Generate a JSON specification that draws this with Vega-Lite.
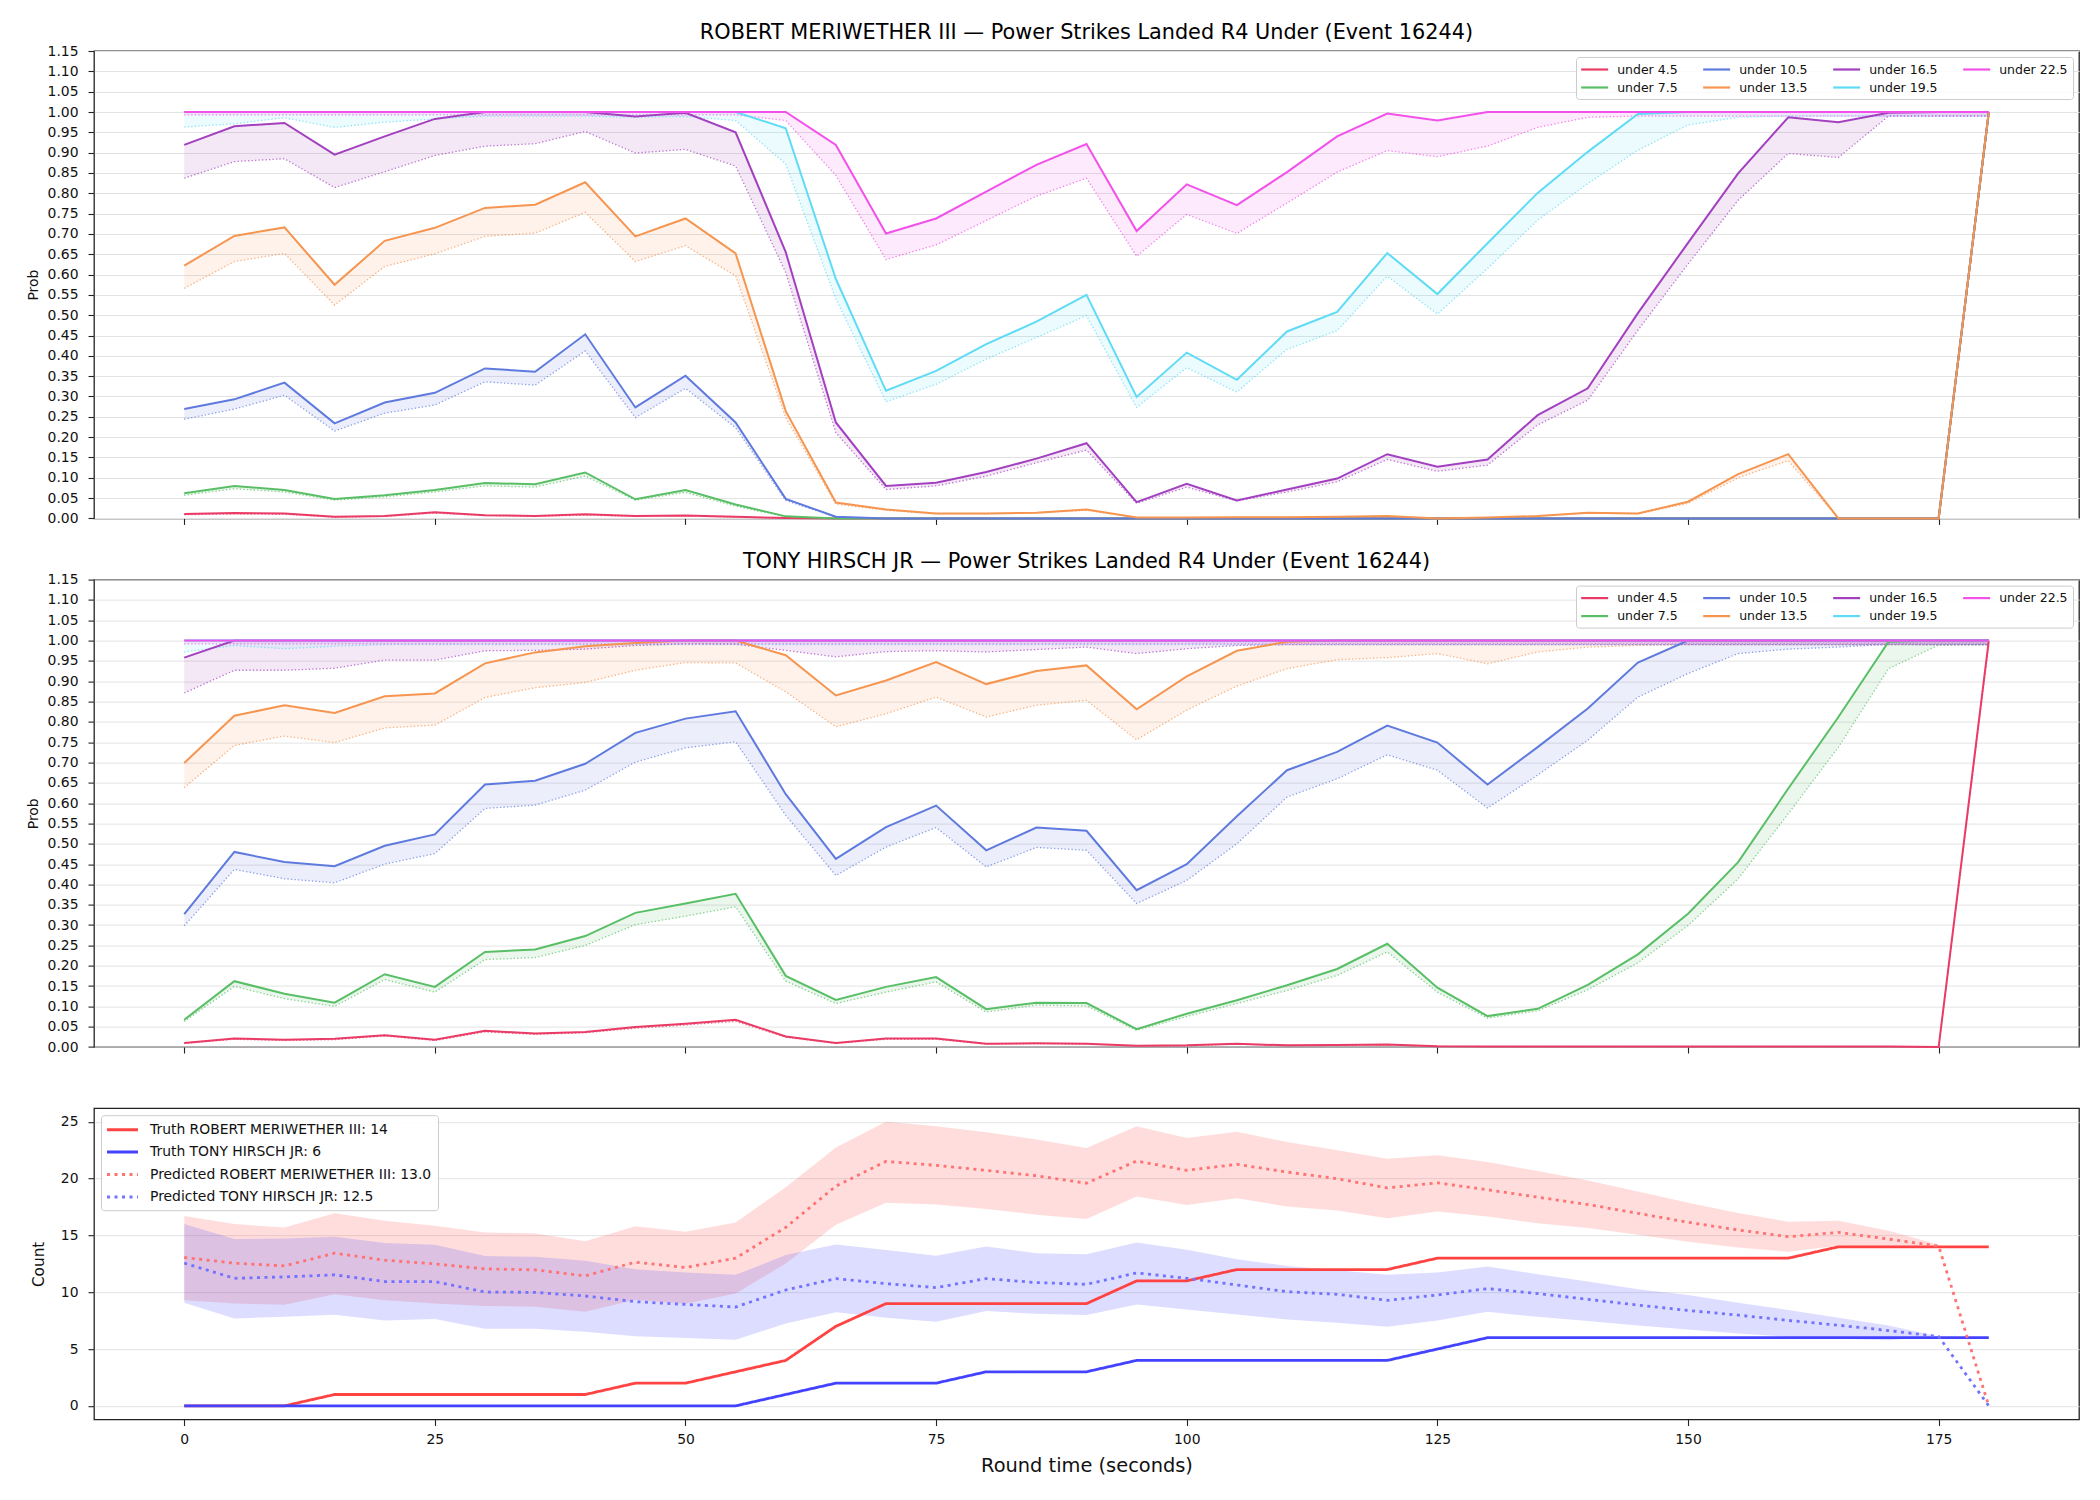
{
"$schema": "https://vega.github.io/schema/vega-lite/v6.json",
"padding": {"left": 25, "top": 21, "right": 5, "bottom": 5},
"background": "white",
"bounds": "flush",
"spacing": 60.6,
"datasets": {
"r": [
{"t":0,"s":"under 4.5","p":0.011,"l":0.009},{"t":5,"s":"under 4.5","p":0.013,"l":0.011},{"t":10,"s":"under 4.5","p":0.012,"l":0.010},{"t":15,"s":"under 4.5","p":0.004,"l":0.003},{"t":20,"s":"under 4.5","p":0.006,"l":0.005},{"t":25,"s":"under 4.5","p":0.015,"l":0.013},{"t":30,"s":"under 4.5","p":0.008,"l":0.007},{"t":35,"s":"under 4.5","p":0.006,"l":0.005},{"t":40,"s":"under 4.5","p":0.010,"l":0.008},{"t":45,"s":"under 4.5","p":0.006,"l":0.005},{"t":50,"s":"under 4.5","p":0.007,"l":0.006},{"t":55,"s":"under 4.5","p":0.004,"l":0.003},{"t":60,"s":"under 4.5","p":0.001,"l":0.001},{"t":65,"s":"under 4.5","p":0,"l":0},{"t":70,"s":"under 4.5","p":0,"l":0},{"t":75,"s":"under 4.5","p":0,"l":0},{"t":80,"s":"under 4.5","p":0,"l":0},{"t":85,"s":"under 4.5","p":0,"l":0},{"t":90,"s":"under 4.5","p":0,"l":0},{"t":95,"s":"under 4.5","p":0,"l":0},{"t":100,"s":"under 4.5","p":0,"l":0},{"t":105,"s":"under 4.5","p":0,"l":0},{"t":110,"s":"under 4.5","p":0,"l":0},{"t":115,"s":"under 4.5","p":0,"l":0},{"t":120,"s":"under 4.5","p":0,"l":0},{"t":125,"s":"under 4.5","p":0,"l":0},{"t":130,"s":"under 4.5","p":0,"l":0},{"t":135,"s":"under 4.5","p":0,"l":0},{"t":140,"s":"under 4.5","p":0,"l":0},{"t":145,"s":"under 4.5","p":0,"l":0},{"t":150,"s":"under 4.5","p":0,"l":0},{"t":155,"s":"under 4.5","p":0,"l":0},{"t":160,"s":"under 4.5","p":0,"l":0},{"t":165,"s":"under 4.5","p":0,"l":0},{"t":170,"s":"under 4.5","p":0,"l":0},{"t":175,"s":"under 4.5","p":0,"l":0},{"t":180,"s":"under 4.5","p":1,"l":0.99},
{"t":0,"s":"under 7.5","p":0.062,"l":0.057},{"t":5,"s":"under 7.5","p":0.080,"l":0.073},{"t":10,"s":"under 7.5","p":0.070,"l":0.065},{"t":15,"s":"under 7.5","p":0.048,"l":0.045},{"t":20,"s":"under 7.5","p":0.057,"l":0.053},{"t":25,"s":"under 7.5","p":0.070,"l":0.065},{"t":30,"s":"under 7.5","p":0.087,"l":0.080},{"t":35,"s":"under 7.5","p":0.084,"l":0.077},{"t":40,"s":"under 7.5","p":0.113,"l":0.104},{"t":45,"s":"under 7.5","p":0.047,"l":0.045},{"t":50,"s":"under 7.5","p":0.070,"l":0.064},{"t":55,"s":"under 7.5","p":0.034,"l":0.030},{"t":60,"s":"under 7.5","p":0.005,"l":0.004},{"t":65,"s":"under 7.5","p":0,"l":0},{"t":70,"s":"under 7.5","p":0,"l":0},{"t":75,"s":"under 7.5","p":0,"l":0},{"t":80,"s":"under 7.5","p":0,"l":0},{"t":85,"s":"under 7.5","p":0,"l":0},{"t":90,"s":"under 7.5","p":0,"l":0},{"t":95,"s":"under 7.5","p":0,"l":0},{"t":100,"s":"under 7.5","p":0,"l":0},{"t":105,"s":"under 7.5","p":0,"l":0},{"t":110,"s":"under 7.5","p":0,"l":0},{"t":115,"s":"under 7.5","p":0,"l":0},{"t":120,"s":"under 7.5","p":0,"l":0},{"t":125,"s":"under 7.5","p":0,"l":0},{"t":130,"s":"under 7.5","p":0,"l":0},{"t":135,"s":"under 7.5","p":0,"l":0},{"t":140,"s":"under 7.5","p":0,"l":0},{"t":145,"s":"under 7.5","p":0,"l":0},{"t":150,"s":"under 7.5","p":0,"l":0},{"t":155,"s":"under 7.5","p":0,"l":0},{"t":160,"s":"under 7.5","p":0,"l":0},{"t":165,"s":"under 7.5","p":0,"l":0},{"t":170,"s":"under 7.5","p":0,"l":0},{"t":175,"s":"under 7.5","p":0,"l":0},{"t":180,"s":"under 7.5","p":1,"l":0.99},
{"t":0,"s":"under 10.5","p":0.269,"l":0.244},{"t":5,"s":"under 10.5","p":0.293,"l":0.269},{"t":10,"s":"under 10.5","p":0.334,"l":0.303},{"t":15,"s":"under 10.5","p":0.234,"l":0.215},{"t":20,"s":"under 10.5","p":0.285,"l":0.259},{"t":25,"s":"under 10.5","p":0.309,"l":0.279},{"t":30,"s":"under 10.5","p":0.369,"l":0.336},{"t":35,"s":"under 10.5","p":0.361,"l":0.328},{"t":40,"s":"under 10.5","p":0.453,"l":0.412},{"t":45,"s":"under 10.5","p":0.273,"l":0.248},{"t":50,"s":"under 10.5","p":0.351,"l":0.320},{"t":55,"s":"under 10.5","p":0.236,"l":0.223},{"t":60,"s":"under 10.5","p":0.048,"l":0.044},{"t":65,"s":"under 10.5","p":0.004,"l":0.003},{"t":70,"s":"under 10.5","p":0,"l":0},{"t":75,"s":"under 10.5","p":0,"l":0},{"t":80,"s":"under 10.5","p":0,"l":0},{"t":85,"s":"under 10.5","p":0,"l":0},{"t":90,"s":"under 10.5","p":0,"l":0},{"t":95,"s":"under 10.5","p":0,"l":0},{"t":100,"s":"under 10.5","p":0,"l":0},{"t":105,"s":"under 10.5","p":0,"l":0},{"t":110,"s":"under 10.5","p":0,"l":0},{"t":115,"s":"under 10.5","p":0,"l":0},{"t":120,"s":"under 10.5","p":0,"l":0},{"t":125,"s":"under 10.5","p":0,"l":0},{"t":130,"s":"under 10.5","p":0,"l":0},{"t":135,"s":"under 10.5","p":0,"l":0},{"t":140,"s":"under 10.5","p":0,"l":0},{"t":145,"s":"under 10.5","p":0,"l":0},{"t":150,"s":"under 10.5","p":0,"l":0},{"t":155,"s":"under 10.5","p":0,"l":0},{"t":160,"s":"under 10.5","p":0,"l":0},{"t":165,"s":"under 10.5","p":0,"l":0},{"t":170,"s":"under 10.5","p":0,"l":0},{"t":175,"s":"under 10.5","p":0,"l":0},{"t":180,"s":"under 10.5","p":1,"l":0.99},
{"t":0,"s":"under 13.5","p":0.622,"l":0.566},{"t":5,"s":"under 13.5","p":0.695,"l":0.632},{"t":10,"s":"under 13.5","p":0.716,"l":0.652},{"t":15,"s":"under 13.5","p":0.575,"l":0.525},{"t":20,"s":"under 13.5","p":0.683,"l":0.620},{"t":25,"s":"under 13.5","p":0.715,"l":0.651},{"t":30,"s":"under 13.5","p":0.764,"l":0.694},{"t":35,"s":"under 13.5","p":0.772,"l":0.702},{"t":40,"s":"under 13.5","p":0.827,"l":0.753},{"t":45,"s":"under 13.5","p":0.694,"l":0.632},{"t":50,"s":"under 13.5","p":0.738,"l":0.671},{"t":55,"s":"under 13.5","p":0.652,"l":0.597},{"t":60,"s":"under 13.5","p":0.264,"l":0.248},{"t":65,"s":"under 13.5","p":0.039,"l":0.035},{"t":70,"s":"under 13.5","p":0.022,"l":0.020},{"t":75,"s":"under 13.5","p":0.012,"l":0.011},{"t":80,"s":"under 13.5","p":0.012,"l":0.011},{"t":85,"s":"under 13.5","p":0.014,"l":0.013},{"t":90,"s":"under 13.5","p":0.022,"l":0.020},{"t":95,"s":"under 13.5","p":0.002,"l":0.002},{"t":100,"s":"under 13.5","p":0.002,"l":0.002},{"t":105,"s":"under 13.5","p":0.003,"l":0.003},{"t":110,"s":"under 13.5","p":0.003,"l":0.003},{"t":115,"s":"under 13.5","p":0.004,"l":0.004},{"t":120,"s":"under 13.5","p":0.006,"l":0.005},{"t":125,"s":"under 13.5","p":0,"l":0},{"t":130,"s":"under 13.5","p":0.002,"l":0.002},{"t":135,"s":"under 13.5","p":0.006,"l":0.005},{"t":140,"s":"under 13.5","p":0.014,"l":0.013},{"t":145,"s":"under 13.5","p":0.012,"l":0.011},{"t":150,"s":"under 13.5","p":0.041,"l":0.037},{"t":155,"s":"under 13.5","p":0.109,"l":0.100},{"t":160,"s":"under 13.5","p":0.158,"l":0.142},{"t":165,"s":"under 13.5","p":0,"l":0},{"t":170,"s":"under 13.5","p":0,"l":0},{"t":175,"s":"under 13.5","p":0,"l":0},{"t":180,"s":"under 13.5","p":1,"l":0.99},
{"t":0,"s":"under 16.5","p":0.919,"l":0.837},{"t":5,"s":"under 16.5","p":0.965,"l":0.878},{"t":10,"s":"under 16.5","p":0.973,"l":0.885},{"t":15,"s":"under 16.5","p":0.895,"l":0.814},{"t":20,"s":"under 16.5","p":0.940,"l":0.853},{"t":25,"s":"under 16.5","p":0.983,"l":0.893},{"t":30,"s":"under 16.5","p":1,"l":0.916},{"t":35,"s":"under 16.5","p":1,"l":0.922},{"t":40,"s":"under 16.5","p":1,"l":0.952},{"t":45,"s":"under 16.5","p":0.989,"l":0.899},{"t":50,"s":"under 16.5","p":0.998,"l":0.908},{"t":55,"s":"under 16.5","p":0.950,"l":0.867},{"t":60,"s":"under 16.5","p":0.655,"l":0.605},{"t":65,"s":"under 16.5","p":0.236,"l":0.211},{"t":70,"s":"under 16.5","p":0.080,"l":0.071},{"t":75,"s":"under 16.5","p":0.088,"l":0.080},{"t":80,"s":"under 16.5","p":0.114,"l":0.104},{"t":85,"s":"under 16.5","p":0.147,"l":0.137},{"t":90,"s":"under 16.5","p":0.185,"l":0.168},{"t":95,"s":"under 16.5","p":0.040,"l":0.037},{"t":100,"s":"under 16.5","p":0.085,"l":0.077},{"t":105,"s":"under 16.5","p":0.044,"l":0.043},{"t":110,"s":"under 16.5","p":0.071,"l":0.065},{"t":115,"s":"under 16.5","p":0.098,"l":0.090},{"t":120,"s":"under 16.5","p":0.158,"l":0.145},{"t":125,"s":"under 16.5","p":0.127,"l":0.116},{"t":130,"s":"under 16.5","p":0.145,"l":0.131},{"t":135,"s":"under 16.5","p":0.254,"l":0.230},{"t":140,"s":"under 16.5","p":0.320,"l":0.291},{"t":145,"s":"under 16.5","p":0.505,"l":0.463},{"t":150,"s":"under 16.5","p":0.678,"l":0.626},{"t":155,"s":"under 16.5","p":0.849,"l":0.783},{"t":160,"s":"under 16.5","p":0.987,"l":0.898},{"t":165,"s":"under 16.5","p":0.975,"l":0.888},{"t":170,"s":"under 16.5","p":0.998,"l":0.990},{"t":175,"s":"under 16.5","p":1,"l":0.990},{"t":180,"s":"under 16.5","p":1,"l":0.990},
{"t":0,"s":"under 19.5","p":1,"l":0.963},{"t":5,"s":"under 19.5","p":1,"l":0.971},{"t":10,"s":"under 19.5","p":1,"l":0.986},{"t":15,"s":"under 19.5","p":1,"l":0.962},{"t":20,"s":"under 19.5","p":1,"l":0.975},{"t":25,"s":"under 19.5","p":1,"l":0.983},{"t":30,"s":"under 19.5","p":1,"l":0.990},{"t":35,"s":"under 19.5","p":1,"l":0.990},{"t":40,"s":"under 19.5","p":1,"l":0.990},{"t":45,"s":"under 19.5","p":1,"l":0.987},{"t":50,"s":"under 19.5","p":1,"l":0.989},{"t":55,"s":"under 19.5","p":1,"l":0.979},{"t":60,"s":"under 19.5","p":0.960,"l":0.872},{"t":65,"s":"under 19.5","p":0.589,"l":0.540},{"t":70,"s":"under 19.5","p":0.314,"l":0.287},{"t":75,"s":"under 19.5","p":0.363,"l":0.330},{"t":80,"s":"under 19.5","p":0.429,"l":0.392},{"t":85,"s":"under 19.5","p":0.484,"l":0.445},{"t":90,"s":"under 19.5","p":0.550,"l":0.499},{"t":95,"s":"under 19.5","p":0.299,"l":0.273},{"t":100,"s":"under 19.5","p":0.408,"l":0.371},{"t":105,"s":"under 19.5","p":0.341,"l":0.311},{"t":110,"s":"under 19.5","p":0.460,"l":0.416},{"t":115,"s":"under 19.5","p":0.508,"l":0.462},{"t":120,"s":"under 19.5","p":0.653,"l":0.596},{"t":125,"s":"under 19.5","p":0.552,"l":0.503},{"t":130,"s":"under 19.5","p":0.677,"l":0.615},{"t":135,"s":"under 19.5","p":0.801,"l":0.734},{"t":140,"s":"under 19.5","p":0.902,"l":0.824},{"t":145,"s":"under 19.5","p":0.995,"l":0.906},{"t":150,"s":"under 19.5","p":1,"l":0.968},{"t":155,"s":"under 19.5","p":1,"l":0.987},{"t":160,"s":"under 19.5","p":1,"l":0.990},{"t":165,"s":"under 19.5","p":1,"l":0.990},{"t":170,"s":"under 19.5","p":1,"l":0.990},{"t":175,"s":"under 19.5","p":1,"l":0.990},{"t":180,"s":"under 19.5","p":1,"l":0.990},
{"t":0,"s":"under 22.5","p":1,"l":0.993},{"t":5,"s":"under 22.5","p":1,"l":0.993},{"t":10,"s":"under 22.5","p":1,"l":0.993},{"t":15,"s":"under 22.5","p":1,"l":0.993},{"t":20,"s":"under 22.5","p":1,"l":0.993},{"t":25,"s":"under 22.5","p":1,"l":0.993},{"t":30,"s":"under 22.5","p":1,"l":0.993},{"t":35,"s":"under 22.5","p":1,"l":0.993},{"t":40,"s":"under 22.5","p":1,"l":0.993},{"t":45,"s":"under 22.5","p":1,"l":0.993},{"t":50,"s":"under 22.5","p":1,"l":0.993},{"t":55,"s":"under 22.5","p":1,"l":0.993},{"t":60,"s":"under 22.5","p":1,"l":0.979},{"t":65,"s":"under 22.5","p":0.919,"l":0.844},{"t":70,"s":"under 22.5","p":0.701,"l":0.637},{"t":75,"s":"under 22.5","p":0.738,"l":0.673},{"t":80,"s":"under 22.5","p":0.804,"l":0.733},{"t":85,"s":"under 22.5","p":0.870,"l":0.793},{"t":90,"s":"under 22.5","p":0.921,"l":0.837},{"t":95,"s":"under 22.5","p":0.707,"l":0.645},{"t":100,"s":"under 22.5","p":0.822,"l":0.748},{"t":105,"s":"under 22.5","p":0.771,"l":0.701},{"t":110,"s":"under 22.5","p":0.852,"l":0.776},{"t":115,"s":"under 22.5","p":0.940,"l":0.852},{"t":120,"s":"under 22.5","p":0.996,"l":0.905},{"t":125,"s":"under 22.5","p":0.979,"l":0.890},{"t":130,"s":"under 22.5","p":1,"l":0.916},{"t":135,"s":"under 22.5","p":1,"l":0.962},{"t":140,"s":"under 22.5","p":1,"l":0.987},{"t":145,"s":"under 22.5","p":1,"l":0.990},{"t":150,"s":"under 22.5","p":1,"l":0.990},{"t":155,"s":"under 22.5","p":1,"l":0.990},{"t":160,"s":"under 22.5","p":1,"l":0.990},{"t":165,"s":"under 22.5","p":1,"l":0.990},{"t":170,"s":"under 22.5","p":1,"l":0.990},{"t":175,"s":"under 22.5","p":1,"l":0.990},{"t":180,"s":"under 22.5","p":1,"l":0.990}
],
"h": [
{"t":0,"s":"under 4.5","p":0.010,"l":0.009},{"t":5,"s":"under 4.5","p":0.021,"l":0.019},{"t":10,"s":"under 4.5","p":0.018,"l":0.016},{"t":15,"s":"under 4.5","p":0.020,"l":0.018},{"t":20,"s":"under 4.5","p":0.029,"l":0.027},{"t":25,"s":"under 4.5","p":0.018,"l":0.016},{"t":30,"s":"under 4.5","p":0.040,"l":0.037},{"t":35,"s":"under 4.5","p":0.033,"l":0.031},{"t":40,"s":"under 4.5","p":0.037,"l":0.035},{"t":45,"s":"under 4.5","p":0.049,"l":0.046},{"t":50,"s":"under 4.5","p":0.057,"l":0.054},{"t":55,"s":"under 4.5","p":0.067,"l":0.063},{"t":60,"s":"under 4.5","p":0.026,"l":0.024},{"t":65,"s":"under 4.5","p":0.010,"l":0.009},{"t":70,"s":"under 4.5","p":0.021,"l":0.019},{"t":75,"s":"under 4.5","p":0.021,"l":0.019},{"t":80,"s":"under 4.5","p":0.008,"l":0.007},{"t":85,"s":"under 4.5","p":0.009,"l":0.008},{"t":90,"s":"under 4.5","p":0.008,"l":0.007},{"t":95,"s":"under 4.5","p":0.003,"l":0.003},{"t":100,"s":"under 4.5","p":0.004,"l":0.003},{"t":105,"s":"under 4.5","p":0.008,"l":0.007},{"t":110,"s":"under 4.5","p":0.004,"l":0.003},{"t":115,"s":"under 4.5","p":0.005,"l":0.004},{"t":120,"s":"under 4.5","p":0.006,"l":0.005},{"t":125,"s":"under 4.5","p":0.002,"l":0.002},{"t":130,"s":"under 4.5","p":0.001,"l":0.001},{"t":135,"s":"under 4.5","p":0.001,"l":0.001},{"t":140,"s":"under 4.5","p":0.001,"l":0.001},{"t":145,"s":"under 4.5","p":0.001,"l":0.001},{"t":150,"s":"under 4.5","p":0.001,"l":0.001},{"t":155,"s":"under 4.5","p":0.001,"l":0.001},{"t":160,"s":"under 4.5","p":0.001,"l":0.001},{"t":165,"s":"under 4.5","p":0.001,"l":0.001},{"t":170,"s":"under 4.5","p":0.001,"l":0.001},{"t":175,"s":"under 4.5","p":0,"l":0},{"t":180,"s":"under 4.5","p":1,"l":0.99},
{"t":0,"s":"under 7.5","p":0.067,"l":0.063},{"t":5,"s":"under 7.5","p":0.162,"l":0.149},{"t":10,"s":"under 7.5","p":0.131,"l":0.119},{"t":15,"s":"under 7.5","p":0.109,"l":0.100},{"t":20,"s":"under 7.5","p":0.179,"l":0.166},{"t":25,"s":"under 7.5","p":0.148,"l":0.135},{"t":30,"s":"under 7.5","p":0.234,"l":0.215},{"t":35,"s":"under 7.5","p":0.240,"l":0.220},{"t":40,"s":"under 7.5","p":0.273,"l":0.250},{"t":45,"s":"under 7.5","p":0.330,"l":0.301},{"t":50,"s":"under 7.5","p":0.353,"l":0.322},{"t":55,"s":"under 7.5","p":0.377,"l":0.345},{"t":60,"s":"under 7.5","p":0.175,"l":0.162},{"t":65,"s":"under 7.5","p":0.116,"l":0.107},{"t":70,"s":"under 7.5","p":0.148,"l":0.135},{"t":75,"s":"under 7.5","p":0.172,"l":0.160},{"t":80,"s":"under 7.5","p":0.093,"l":0.086},{"t":85,"s":"under 7.5","p":0.109,"l":0.103},{"t":90,"s":"under 7.5","p":0.108,"l":0.101},{"t":95,"s":"under 7.5","p":0.044,"l":0.041},{"t":100,"s":"under 7.5","p":0.082,"l":0.075},{"t":105,"s":"under 7.5","p":0.115,"l":0.107},{"t":110,"s":"under 7.5","p":0.152,"l":0.139},{"t":115,"s":"under 7.5","p":0.192,"l":0.176},{"t":120,"s":"under 7.5","p":0.254,"l":0.234},{"t":125,"s":"under 7.5","p":0.146,"l":0.135},{"t":130,"s":"under 7.5","p":0.076,"l":0.071},{"t":135,"s":"under 7.5","p":0.094,"l":0.089},{"t":140,"s":"under 7.5","p":0.153,"l":0.141},{"t":145,"s":"under 7.5","p":0.228,"l":0.207},{"t":150,"s":"under 7.5","p":0.328,"l":0.299},{"t":155,"s":"under 7.5","p":0.455,"l":0.414},{"t":160,"s":"under 7.5","p":0.636,"l":0.574},{"t":165,"s":"under 7.5","p":0.812,"l":0.738},{"t":170,"s":"under 7.5","p":0.997,"l":0.931},{"t":175,"s":"under 7.5","p":1,"l":0.989},{"t":180,"s":"under 7.5","p":1,"l":0.990},
{"t":0,"s":"under 10.5","p":0.327,"l":0.298},{"t":5,"s":"under 10.5","p":0.480,"l":0.437},{"t":10,"s":"under 10.5","p":0.455,"l":0.414},{"t":15,"s":"under 10.5","p":0.445,"l":0.404},{"t":20,"s":"under 10.5","p":0.495,"l":0.450},{"t":25,"s":"under 10.5","p":0.523,"l":0.476},{"t":30,"s":"under 10.5","p":0.646,"l":0.587},{"t":35,"s":"under 10.5","p":0.655,"l":0.595},{"t":40,"s":"under 10.5","p":0.697,"l":0.632},{"t":45,"s":"under 10.5","p":0.773,"l":0.701},{"t":50,"s":"under 10.5","p":0.808,"l":0.736},{"t":55,"s":"under 10.5","p":0.826,"l":0.751},{"t":60,"s":"under 10.5","p":0.622,"l":0.570},{"t":65,"s":"under 10.5","p":0.463,"l":0.422},{"t":70,"s":"under 10.5","p":0.541,"l":0.492},{"t":75,"s":"under 10.5","p":0.594,"l":0.540},{"t":80,"s":"under 10.5","p":0.484,"l":0.443},{"t":85,"s":"under 10.5","p":0.540,"l":0.491},{"t":90,"s":"under 10.5","p":0.532,"l":0.484},{"t":95,"s":"under 10.5","p":0.386,"l":0.353},{"t":100,"s":"under 10.5","p":0.450,"l":0.410},{"t":105,"s":"under 10.5","p":0.568,"l":0.500},{"t":110,"s":"under 10.5","p":0.681,"l":0.615},{"t":115,"s":"under 10.5","p":0.726,"l":0.660},{"t":120,"s":"under 10.5","p":0.791,"l":0.719},{"t":125,"s":"under 10.5","p":0.749,"l":0.681},{"t":130,"s":"under 10.5","p":0.646,"l":0.588},{"t":135,"s":"under 10.5","p":0.738,"l":0.669},{"t":140,"s":"under 10.5","p":0.833,"l":0.755},{"t":145,"s":"under 10.5","p":0.946,"l":0.861},{"t":150,"s":"under 10.5","p":1,"l":0.919},{"t":155,"s":"under 10.5","p":1,"l":0.968},{"t":160,"s":"under 10.5","p":1,"l":0.979},{"t":165,"s":"under 10.5","p":1,"l":0.984},{"t":170,"s":"under 10.5","p":1,"l":0.991},{"t":175,"s":"under 10.5","p":1,"l":0.990},{"t":180,"s":"under 10.5","p":1,"l":0.990},
{"t":0,"s":"under 13.5","p":0.699,"l":0.638},{"t":5,"s":"under 13.5","p":0.815,"l":0.742},{"t":10,"s":"under 13.5","p":0.841,"l":0.765},{"t":15,"s":"under 13.5","p":0.822,"l":0.749},{"t":20,"s":"under 13.5","p":0.863,"l":0.785},{"t":25,"s":"under 13.5","p":0.870,"l":0.792},{"t":30,"s":"under 13.5","p":0.944,"l":0.860},{"t":35,"s":"under 13.5","p":0.971,"l":0.884},{"t":40,"s":"under 13.5","p":0.986,"l":0.897},{"t":45,"s":"under 13.5","p":0.994,"l":0.927},{"t":50,"s":"under 13.5","p":1,"l":0.946},{"t":55,"s":"under 13.5","p":1,"l":0.945},{"t":60,"s":"under 13.5","p":0.964,"l":0.874},{"t":65,"s":"under 13.5","p":0.865,"l":0.788},{"t":70,"s":"under 13.5","p":0.902,"l":0.820},{"t":75,"s":"under 13.5","p":0.947,"l":0.861},{"t":80,"s":"under 13.5","p":0.893,"l":0.812},{"t":85,"s":"under 13.5","p":0.925,"l":0.841},{"t":90,"s":"under 13.5","p":0.939,"l":0.853},{"t":95,"s":"under 13.5","p":0.831,"l":0.756},{"t":100,"s":"under 13.5","p":0.912,"l":0.829},{"t":105,"s":"under 13.5","p":0.975,"l":0.888},{"t":110,"s":"under 13.5","p":0.997,"l":0.931},{"t":115,"s":"under 13.5","p":1,"l":0.953},{"t":120,"s":"under 13.5","p":1,"l":0.958},{"t":125,"s":"under 13.5","p":1,"l":0.968},{"t":130,"s":"under 13.5","p":1,"l":0.943},{"t":135,"s":"under 13.5","p":1,"l":0.972},{"t":140,"s":"under 13.5","p":1,"l":0.984},{"t":145,"s":"under 13.5","p":1,"l":0.988},{"t":150,"s":"under 13.5","p":1,"l":0.990},{"t":155,"s":"under 13.5","p":1,"l":0.990},{"t":160,"s":"under 13.5","p":1,"l":0.990},{"t":165,"s":"under 13.5","p":1,"l":0.990},{"t":170,"s":"under 13.5","p":1,"l":0.990},{"t":175,"s":"under 13.5","p":1,"l":0.990},{"t":180,"s":"under 13.5","p":1,"l":0.990},
{"t":0,"s":"under 16.5","p":0.958,"l":0.871},{"t":5,"s":"under 16.5","p":1,"l":0.927},{"t":10,"s":"under 16.5","p":1,"l":0.927},{"t":15,"s":"under 16.5","p":1,"l":0.932},{"t":20,"s":"under 16.5","p":1,"l":0.952},{"t":25,"s":"under 16.5","p":1,"l":0.952},{"t":30,"s":"under 16.5","p":1,"l":0.975},{"t":35,"s":"under 16.5","p":1,"l":0.976},{"t":40,"s":"under 16.5","p":1,"l":0.979},{"t":45,"s":"under 16.5","p":1,"l":0.988},{"t":50,"s":"under 16.5","p":1,"l":0.992},{"t":55,"s":"under 16.5","p":1,"l":0.991},{"t":60,"s":"under 16.5","p":1,"l":0.976},{"t":65,"s":"under 16.5","p":1,"l":0.960},{"t":70,"s":"under 16.5","p":1,"l":0.973},{"t":75,"s":"under 16.5","p":1,"l":0.975},{"t":80,"s":"under 16.5","p":1,"l":0.972},{"t":85,"s":"under 16.5","p":1,"l":0.978},{"t":90,"s":"under 16.5","p":1,"l":0.984},{"t":95,"s":"under 16.5","p":1,"l":0.968},{"t":100,"s":"under 16.5","p":1,"l":0.980},{"t":105,"s":"under 16.5","p":1,"l":0.988},{"t":110,"s":"under 16.5","p":1,"l":0.990},{"t":115,"s":"under 16.5","p":1,"l":0.990},{"t":120,"s":"under 16.5","p":1,"l":0.990},{"t":125,"s":"under 16.5","p":1,"l":0.990},{"t":130,"s":"under 16.5","p":1,"l":0.990},{"t":135,"s":"under 16.5","p":1,"l":0.990},{"t":140,"s":"under 16.5","p":1,"l":0.990},{"t":145,"s":"under 16.5","p":1,"l":0.990},{"t":150,"s":"under 16.5","p":1,"l":0.990},{"t":155,"s":"under 16.5","p":1,"l":0.990},{"t":160,"s":"under 16.5","p":1,"l":0.990},{"t":165,"s":"under 16.5","p":1,"l":0.990},{"t":170,"s":"under 16.5","p":1,"l":0.990},{"t":175,"s":"under 16.5","p":1,"l":0.990},{"t":180,"s":"under 16.5","p":1,"l":0.990},
{"t":0,"s":"under 19.5","p":1,"l":0.972},{"t":5,"s":"under 19.5","p":1,"l":0.988},{"t":10,"s":"under 19.5","p":1,"l":0.980},{"t":15,"s":"under 19.5","p":1,"l":0.986},{"t":20,"s":"under 19.5","p":1,"l":0.990},{"t":25,"s":"under 19.5","p":1,"l":0.990},{"t":30,"s":"under 19.5","p":1,"l":0.990},{"t":35,"s":"under 19.5","p":1,"l":0.990},{"t":40,"s":"under 19.5","p":1,"l":0.990},{"t":45,"s":"under 19.5","p":1,"l":0.990},{"t":50,"s":"under 19.5","p":1,"l":0.990},{"t":55,"s":"under 19.5","p":1,"l":0.990},{"t":60,"s":"under 19.5","p":1,"l":0.990},{"t":65,"s":"under 19.5","p":1,"l":0.990},{"t":70,"s":"under 19.5","p":1,"l":0.990},{"t":75,"s":"under 19.5","p":1,"l":0.990},{"t":80,"s":"under 19.5","p":1,"l":0.990},{"t":85,"s":"under 19.5","p":1,"l":0.990},{"t":90,"s":"under 19.5","p":1,"l":0.990},{"t":95,"s":"under 19.5","p":1,"l":0.990},{"t":100,"s":"under 19.5","p":1,"l":0.990},{"t":105,"s":"under 19.5","p":1,"l":0.990},{"t":110,"s":"under 19.5","p":1,"l":0.990},{"t":115,"s":"under 19.5","p":1,"l":0.990},{"t":120,"s":"under 19.5","p":1,"l":0.990},{"t":125,"s":"under 19.5","p":1,"l":0.990},{"t":130,"s":"under 19.5","p":1,"l":0.990},{"t":135,"s":"under 19.5","p":1,"l":0.990},{"t":140,"s":"under 19.5","p":1,"l":0.990},{"t":145,"s":"under 19.5","p":1,"l":0.990},{"t":150,"s":"under 19.5","p":1,"l":0.990},{"t":155,"s":"under 19.5","p":1,"l":0.990},{"t":160,"s":"under 19.5","p":1,"l":0.990},{"t":165,"s":"under 19.5","p":1,"l":0.990},{"t":170,"s":"under 19.5","p":1,"l":0.990},{"t":175,"s":"under 19.5","p":1,"l":0.990},{"t":180,"s":"under 19.5","p":1,"l":0.990},
{"t":0,"s":"under 22.5","p":1,"l":0.992},{"t":5,"s":"under 22.5","p":1,"l":0.992},{"t":10,"s":"under 22.5","p":1,"l":0.992},{"t":15,"s":"under 22.5","p":1,"l":0.992},{"t":20,"s":"under 22.5","p":1,"l":0.992},{"t":25,"s":"under 22.5","p":1,"l":0.992},{"t":30,"s":"under 22.5","p":1,"l":0.992},{"t":35,"s":"under 22.5","p":1,"l":0.992},{"t":40,"s":"under 22.5","p":1,"l":0.992},{"t":45,"s":"under 22.5","p":1,"l":0.992},{"t":50,"s":"under 22.5","p":1,"l":0.992},{"t":55,"s":"under 22.5","p":1,"l":0.992},{"t":60,"s":"under 22.5","p":1,"l":0.992},{"t":65,"s":"under 22.5","p":1,"l":0.992},{"t":70,"s":"under 22.5","p":1,"l":0.992},{"t":75,"s":"under 22.5","p":1,"l":0.992},{"t":80,"s":"under 22.5","p":1,"l":0.992},{"t":85,"s":"under 22.5","p":1,"l":0.992},{"t":90,"s":"under 22.5","p":1,"l":0.992},{"t":95,"s":"under 22.5","p":1,"l":0.992},{"t":100,"s":"under 22.5","p":1,"l":0.992},{"t":105,"s":"under 22.5","p":1,"l":0.992},{"t":110,"s":"under 22.5","p":1,"l":0.992},{"t":115,"s":"under 22.5","p":1,"l":0.992},{"t":120,"s":"under 22.5","p":1,"l":0.992},{"t":125,"s":"under 22.5","p":1,"l":0.992},{"t":130,"s":"under 22.5","p":1,"l":0.992},{"t":135,"s":"under 22.5","p":1,"l":0.992},{"t":140,"s":"under 22.5","p":1,"l":0.992},{"t":145,"s":"under 22.5","p":1,"l":0.992},{"t":150,"s":"under 22.5","p":1,"l":0.992},{"t":155,"s":"under 22.5","p":1,"l":0.992},{"t":160,"s":"under 22.5","p":1,"l":0.992},{"t":165,"s":"under 22.5","p":1,"l":0.992},{"t":170,"s":"under 22.5","p":1,"l":0.992},{"t":175,"s":"under 22.5","p":1,"l":0.992},{"t":180,"s":"under 22.5","p":1,"l":0.992}
],
"c": [
{"t":0,"k":"Truth ROBERT MERIWETHER III: 14","v":0},{"t":5,"k":"Truth ROBERT MERIWETHER III: 14","v":0},{"t":10,"k":"Truth ROBERT MERIWETHER III: 14","v":0},{"t":15,"k":"Truth ROBERT MERIWETHER III: 14","v":1},{"t":20,"k":"Truth ROBERT MERIWETHER III: 14","v":1},{"t":25,"k":"Truth ROBERT MERIWETHER III: 14","v":1},{"t":30,"k":"Truth ROBERT MERIWETHER III: 14","v":1},{"t":35,"k":"Truth ROBERT MERIWETHER III: 14","v":1},{"t":40,"k":"Truth ROBERT MERIWETHER III: 14","v":1},{"t":45,"k":"Truth ROBERT MERIWETHER III: 14","v":2},{"t":50,"k":"Truth ROBERT MERIWETHER III: 14","v":2},{"t":55,"k":"Truth ROBERT MERIWETHER III: 14","v":3},{"t":60,"k":"Truth ROBERT MERIWETHER III: 14","v":4},{"t":65,"k":"Truth ROBERT MERIWETHER III: 14","v":7},{"t":70,"k":"Truth ROBERT MERIWETHER III: 14","v":9},{"t":75,"k":"Truth ROBERT MERIWETHER III: 14","v":9},{"t":80,"k":"Truth ROBERT MERIWETHER III: 14","v":9},{"t":85,"k":"Truth ROBERT MERIWETHER III: 14","v":9},{"t":90,"k":"Truth ROBERT MERIWETHER III: 14","v":9},{"t":95,"k":"Truth ROBERT MERIWETHER III: 14","v":11},{"t":100,"k":"Truth ROBERT MERIWETHER III: 14","v":11},{"t":105,"k":"Truth ROBERT MERIWETHER III: 14","v":12},{"t":110,"k":"Truth ROBERT MERIWETHER III: 14","v":12},{"t":115,"k":"Truth ROBERT MERIWETHER III: 14","v":12},{"t":120,"k":"Truth ROBERT MERIWETHER III: 14","v":12},{"t":125,"k":"Truth ROBERT MERIWETHER III: 14","v":13},{"t":130,"k":"Truth ROBERT MERIWETHER III: 14","v":13},{"t":135,"k":"Truth ROBERT MERIWETHER III: 14","v":13},{"t":140,"k":"Truth ROBERT MERIWETHER III: 14","v":13},{"t":145,"k":"Truth ROBERT MERIWETHER III: 14","v":13},{"t":150,"k":"Truth ROBERT MERIWETHER III: 14","v":13},{"t":155,"k":"Truth ROBERT MERIWETHER III: 14","v":13},{"t":160,"k":"Truth ROBERT MERIWETHER III: 14","v":13},{"t":165,"k":"Truth ROBERT MERIWETHER III: 14","v":14},{"t":170,"k":"Truth ROBERT MERIWETHER III: 14","v":14},{"t":175,"k":"Truth ROBERT MERIWETHER III: 14","v":14},{"t":180,"k":"Truth ROBERT MERIWETHER III: 14","v":14},
{"t":0,"k":"Truth TONY HIRSCH JR: 6","v":0},{"t":5,"k":"Truth TONY HIRSCH JR: 6","v":0},{"t":10,"k":"Truth TONY HIRSCH JR: 6","v":0},{"t":15,"k":"Truth TONY HIRSCH JR: 6","v":0},{"t":20,"k":"Truth TONY HIRSCH JR: 6","v":0},{"t":25,"k":"Truth TONY HIRSCH JR: 6","v":0},{"t":30,"k":"Truth TONY HIRSCH JR: 6","v":0},{"t":35,"k":"Truth TONY HIRSCH JR: 6","v":0},{"t":40,"k":"Truth TONY HIRSCH JR: 6","v":0},{"t":45,"k":"Truth TONY HIRSCH JR: 6","v":0},{"t":50,"k":"Truth TONY HIRSCH JR: 6","v":0},{"t":55,"k":"Truth TONY HIRSCH JR: 6","v":0},{"t":60,"k":"Truth TONY HIRSCH JR: 6","v":1},{"t":65,"k":"Truth TONY HIRSCH JR: 6","v":2},{"t":70,"k":"Truth TONY HIRSCH JR: 6","v":2},{"t":75,"k":"Truth TONY HIRSCH JR: 6","v":2},{"t":80,"k":"Truth TONY HIRSCH JR: 6","v":3},{"t":85,"k":"Truth TONY HIRSCH JR: 6","v":3},{"t":90,"k":"Truth TONY HIRSCH JR: 6","v":3},{"t":95,"k":"Truth TONY HIRSCH JR: 6","v":4},{"t":100,"k":"Truth TONY HIRSCH JR: 6","v":4},{"t":105,"k":"Truth TONY HIRSCH JR: 6","v":4},{"t":110,"k":"Truth TONY HIRSCH JR: 6","v":4},{"t":115,"k":"Truth TONY HIRSCH JR: 6","v":4},{"t":120,"k":"Truth TONY HIRSCH JR: 6","v":4},{"t":125,"k":"Truth TONY HIRSCH JR: 6","v":5},{"t":130,"k":"Truth TONY HIRSCH JR: 6","v":6},{"t":135,"k":"Truth TONY HIRSCH JR: 6","v":6},{"t":140,"k":"Truth TONY HIRSCH JR: 6","v":6},{"t":145,"k":"Truth TONY HIRSCH JR: 6","v":6},{"t":150,"k":"Truth TONY HIRSCH JR: 6","v":6},{"t":155,"k":"Truth TONY HIRSCH JR: 6","v":6},{"t":160,"k":"Truth TONY HIRSCH JR: 6","v":6},{"t":165,"k":"Truth TONY HIRSCH JR: 6","v":6},{"t":170,"k":"Truth TONY HIRSCH JR: 6","v":6},{"t":175,"k":"Truth TONY HIRSCH JR: 6","v":6},{"t":180,"k":"Truth TONY HIRSCH JR: 6","v":6},
{"t":0,"k":"Predicted ROBERT MERIWETHER III: 13.0","v":13.06},{"t":5,"k":"Predicted ROBERT MERIWETHER III: 13.0","v":12.56},{"t":10,"k":"Predicted ROBERT MERIWETHER III: 13.0","v":12.32},{"t":15,"k":"Predicted ROBERT MERIWETHER III: 13.0","v":13.44},{"t":20,"k":"Predicted ROBERT MERIWETHER III: 13.0","v":12.82},{"t":25,"k":"Predicted ROBERT MERIWETHER III: 13.0","v":12.5},{"t":30,"k":"Predicted ROBERT MERIWETHER III: 13.0","v":12.06},{"t":35,"k":"Predicted ROBERT MERIWETHER III: 13.0","v":11.97},{"t":40,"k":"Predicted ROBERT MERIWETHER III: 13.0","v":11.44},{"t":45,"k":"Predicted ROBERT MERIWETHER III: 13.0","v":12.65},{"t":50,"k":"Predicted ROBERT MERIWETHER III: 13.0","v":12.18},{"t":55,"k":"Predicted ROBERT MERIWETHER III: 13.0","v":13.0},{"t":60,"k":"Predicted ROBERT MERIWETHER III: 13.0","v":15.71},{"t":65,"k":"Predicted ROBERT MERIWETHER III: 13.0","v":19.34},{"t":70,"k":"Predicted ROBERT MERIWETHER III: 13.0","v":21.52},{"t":75,"k":"Predicted ROBERT MERIWETHER III: 13.0","v":21.17},{"t":80,"k":"Predicted ROBERT MERIWETHER III: 13.0","v":20.73},{"t":85,"k":"Predicted ROBERT MERIWETHER III: 13.0","v":20.25},{"t":90,"k":"Predicted ROBERT MERIWETHER III: 13.0","v":19.6},{"t":95,"k":"Predicted ROBERT MERIWETHER III: 13.0","v":21.55},{"t":100,"k":"Predicted ROBERT MERIWETHER III: 13.0","v":20.73},{"t":105,"k":"Predicted ROBERT MERIWETHER III: 13.0","v":21.26},{"t":110,"k":"Predicted ROBERT MERIWETHER III: 13.0","v":20.58},{"t":115,"k":"Predicted ROBERT MERIWETHER III: 13.0","v":19.99},{"t":120,"k":"Predicted ROBERT MERIWETHER III: 13.0","v":19.19},{"t":125,"k":"Predicted ROBERT MERIWETHER III: 13.0","v":19.63},{"t":130,"k":"Predicted ROBERT MERIWETHER III: 13.0","v":19.02},{"t":135,"k":"Predicted ROBERT MERIWETHER III: 13.0","v":18.37},{"t":140,"k":"Predicted ROBERT MERIWETHER III: 13.0","v":17.72},{"t":145,"k":"Predicted ROBERT MERIWETHER III: 13.0","v":16.95},{"t":150,"k":"Predicted ROBERT MERIWETHER III: 13.0","v":16.16},{"t":155,"k":"Predicted ROBERT MERIWETHER III: 13.0","v":15.48},{"t":160,"k":"Predicted ROBERT MERIWETHER III: 13.0","v":14.89},{"t":165,"k":"Predicted ROBERT MERIWETHER III: 13.0","v":15.27},{"t":170,"k":"Predicted ROBERT MERIWETHER III: 13.0","v":14.68},{"t":175,"k":"Predicted ROBERT MERIWETHER III: 13.0","v":14.06},{"t":180,"k":"Predicted ROBERT MERIWETHER III: 13.0","v":0},
{"t":0,"k":"Predicted TONY HIRSCH JR: 12.5","v":12.56},{"t":5,"k":"Predicted TONY HIRSCH JR: 12.5","v":11.23},{"t":10,"k":"Predicted TONY HIRSCH JR: 12.5","v":11.35},{"t":15,"k":"Predicted TONY HIRSCH JR: 12.5","v":11.53},{"t":20,"k":"Predicted TONY HIRSCH JR: 12.5","v":10.94},{"t":25,"k":"Predicted TONY HIRSCH JR: 12.5","v":10.94},{"t":30,"k":"Predicted TONY HIRSCH JR: 12.5","v":10.02},{"t":35,"k":"Predicted TONY HIRSCH JR: 12.5","v":9.99},{"t":40,"k":"Predicted TONY HIRSCH JR: 12.5","v":9.67},{"t":45,"k":"Predicted TONY HIRSCH JR: 12.5","v":9.17},{"t":50,"k":"Predicted TONY HIRSCH JR: 12.5","v":8.93},{"t":55,"k":"Predicted TONY HIRSCH JR: 12.5","v":8.7},{"t":60,"k":"Predicted TONY HIRSCH JR: 12.5","v":10.2},{"t":65,"k":"Predicted TONY HIRSCH JR: 12.5","v":11.2},{"t":70,"k":"Predicted TONY HIRSCH JR: 12.5","v":10.76},{"t":75,"k":"Predicted TONY HIRSCH JR: 12.5","v":10.41},{"t":80,"k":"Predicted TONY HIRSCH JR: 12.5","v":11.2},{"t":85,"k":"Predicted TONY HIRSCH JR: 12.5","v":10.85},{"t":90,"k":"Predicted TONY HIRSCH JR: 12.5","v":10.7},{"t":95,"k":"Predicted TONY HIRSCH JR: 12.5","v":11.7},{"t":100,"k":"Predicted TONY HIRSCH JR: 12.5","v":11.23},{"t":105,"k":"Predicted TONY HIRSCH JR: 12.5","v":10.64},{"t":110,"k":"Predicted TONY HIRSCH JR: 12.5","v":10.05},{"t":115,"k":"Predicted TONY HIRSCH JR: 12.5","v":9.82},{"t":120,"k":"Predicted TONY HIRSCH JR: 12.5","v":9.29},{"t":125,"k":"Predicted TONY HIRSCH JR: 12.5","v":9.76},{"t":130,"k":"Predicted TONY HIRSCH JR: 12.5","v":10.32},{"t":135,"k":"Predicted TONY HIRSCH JR: 12.5","v":9.88},{"t":140,"k":"Predicted TONY HIRSCH JR: 12.5","v":9.38},{"t":145,"k":"Predicted TONY HIRSCH JR: 12.5","v":8.87},{"t":150,"k":"Predicted TONY HIRSCH JR: 12.5","v":8.4},{"t":155,"k":"Predicted TONY HIRSCH JR: 12.5","v":7.99},{"t":160,"k":"Predicted TONY HIRSCH JR: 12.5","v":7.52},{"t":165,"k":"Predicted TONY HIRSCH JR: 12.5","v":7.1},{"t":170,"k":"Predicted TONY HIRSCH JR: 12.5","v":6.63},{"t":175,"k":"Predicted TONY HIRSCH JR: 12.5","v":6.1},{"t":180,"k":"Predicted TONY HIRSCH JR: 12.5","v":0}
],
"b": [
{"t":0,"w":"R","lo":9.29,"hi":16.72},{"t":5,"w":"R","lo":9.02,"hi":16.0},{"t":10,"w":"R","lo":8.9,"hi":15.71},{"t":15,"w":"R","lo":9.82,"hi":16.95},{"t":20,"w":"R","lo":9.29,"hi":16.3},{"t":25,"w":"R","lo":9.02,"hi":15.86},{"t":30,"w":"R","lo":8.79,"hi":15.27},{"t":35,"w":"R","lo":8.73,"hi":15.18},{"t":40,"w":"R","lo":8.28,"hi":14.5},{"t":45,"w":"R","lo":9.35,"hi":15.8},{"t":50,"w":"R","lo":8.99,"hi":15.33},{"t":55,"w":"R","lo":9.88,"hi":16.13},{"t":60,"w":"R","lo":12.53,"hi":19.25},{"t":65,"w":"R","lo":15.95,"hi":22.73},{"t":70,"w":"R","lo":17.87,"hi":25.0},{"t":75,"w":"R","lo":17.72,"hi":24.62},{"t":80,"w":"R","lo":17.33,"hi":24.09},{"t":85,"w":"R","lo":16.83,"hi":23.44},{"t":90,"w":"R","lo":16.45,"hi":22.7},{"t":95,"w":"R","lo":18.43,"hi":24.62},{"t":100,"w":"R","lo":17.69,"hi":23.58},{"t":105,"w":"R","lo":18.28,"hi":24.12},{"t":110,"w":"R","lo":17.54,"hi":23.23},{"t":115,"w":"R","lo":17.19,"hi":22.49},{"t":120,"w":"R","lo":16.51,"hi":21.76},{"t":125,"w":"R","lo":17.1,"hi":22.05},{"t":130,"w":"R","lo":16.66,"hi":21.46},{"t":135,"w":"R","lo":16.07,"hi":20.67},{"t":140,"w":"R","lo":15.65,"hi":19.84},{"t":145,"w":"R","lo":15.06,"hi":18.87},{"t":150,"w":"R","lo":14.45,"hi":17.87},{"t":155,"w":"R","lo":13.94,"hi":16.98},{"t":160,"w":"R","lo":13.56,"hi":16.21},{"t":165,"w":"R","lo":14.09,"hi":16.3},{"t":170,"w":"R","lo":13.89,"hi":15.42},{"t":175,"w":"R","lo":14.06,"hi":14.18},{"t":180,"w":"R","lo":0,"hi":0},
{"t":0,"w":"T","lo":9.08,"hi":16.0},{"t":5,"w":"T","lo":7.69,"hi":14.68},{"t":10,"w":"T","lo":7.84,"hi":14.74},{"t":15,"w":"T","lo":8.02,"hi":14.89},{"t":20,"w":"T","lo":7.52,"hi":14.33},{"t":25,"w":"T","lo":7.64,"hi":14.18},{"t":30,"w":"T","lo":6.78,"hi":13.18},{"t":35,"w":"T","lo":6.78,"hi":13.12},{"t":40,"w":"T","lo":6.52,"hi":12.77},{"t":45,"w":"T","lo":6.13,"hi":12.03},{"t":50,"w":"T","lo":5.98,"hi":11.73},{"t":55,"w":"T","lo":5.81,"hi":11.53},{"t":60,"w":"T","lo":7.25,"hi":13.27},{"t":65,"w":"T","lo":8.23,"hi":14.21},{"t":70,"w":"T","lo":7.75,"hi":13.71},{"t":75,"w":"T","lo":7.4,"hi":13.21},{"t":80,"w":"T","lo":8.34,"hi":14.03},{"t":85,"w":"T","lo":8.11,"hi":13.44},{"t":90,"w":"T","lo":7.99,"hi":13.35},{"t":95,"w":"T","lo":8.93,"hi":14.39},{"t":100,"w":"T","lo":8.49,"hi":13.74},{"t":105,"w":"T","lo":8.05,"hi":12.91},{"t":110,"w":"T","lo":7.61,"hi":12.32},{"t":115,"w":"T","lo":7.31,"hi":11.94},{"t":120,"w":"T","lo":6.96,"hi":11.53},{"t":125,"w":"T","lo":7.52,"hi":11.73},{"t":130,"w":"T","lo":8.28,"hi":12.26},{"t":135,"w":"T","lo":7.84,"hi":11.59},{"t":140,"w":"T","lo":7.46,"hi":10.94},{"t":145,"w":"T","lo":7.08,"hi":10.26},{"t":150,"w":"T","lo":6.72,"hi":9.76},{"t":155,"w":"T","lo":6.37,"hi":9.08},{"t":160,"w":"T","lo":6.07,"hi":8.43},{"t":165,"w":"T","lo":5.9,"hi":7.75},{"t":170,"w":"T","lo":5.78,"hi":7.08},{"t":175,"w":"T","lo":6.1,"hi":6.1},{"t":180,"w":"T","lo":0,"hi":0}
]
},
"vconcat": [
{
"width": 1985, "height": 467.4,
"title": {"text": "ROBERT MERIWETHER III — Power Strikes Landed R4 Under (Event 16244)", "fontSize": 20.8, "fontWeight": "normal", "font": "DejaVu Sans", "color": "#000", "anchor": "middle", "frame": "group", "baseline": "alphabetic", "offset": -15.7},
"data": {"name": "r"},
"encoding": {"x": {"field": "t", "type": "quantitative", "scale": {"domain": [-9, 189], "nice": false, "zero": false}, "axis": {"values": [0,25,50,75,100,125,150,175], "tickCount": 50, "labels": false, "title": null, "grid": false}}},
"layer": [
{"mark": {"type": "area", "opacity": 0.1},
 "encoding": {
  "y": {"field": "p", "type": "quantitative", "title": "Prob", "scale": {"domain": [0, 1.1501], "nice": false, "zero": false}, "axis": {"values": [0,0.05,0.1,0.15,0.2,0.25,0.3,0.35,0.4,0.45,0.5,0.55,0.6,0.65,0.7,0.75,0.8,0.85,0.9,0.95,1,1.05,1.1,1.15], "tickCount": 40, "format": ".2f", "title": "Prob", "grid": true, "labelOverlap": false}},
  "y2": {"field": "l"},
  "fill": {"field": "s", "type": "nominal", "scale": {"domain": ["under 22.5","under 19.5","under 16.5","under 13.5","under 10.5","under 7.5","under 4.5"], "range": ["#f032e6","#42d4f4","#911eb4","#f58231","#4363d8","#3cb44b","#e6194b"]}, "legend": null}}},
{"mark": {"type": "line", "strokeWidth": 1.3, "strokeDash": [1.3, 2.2], "opacity": 0.6},
 "encoding": {
  "y": {"field": "l", "type": "quantitative", "title": "Prob"},
  "stroke": {"field": "s", "type": "nominal", "scale": {"domain": ["under 4.5","under 10.5","under 16.5","under 22.5","under 7.5","under 13.5","under 19.5"], "range": ["#e6194b","#4363d8","#911eb4","#f032e6","#3cb44b","#f58231","#42d4f4"]}, "legend": null}}},
{"mark": {"type": "line", "strokeWidth": 2},
 "encoding": {
  "y": {"field": "p", "type": "quantitative", "title": "Prob"},
  "color": {"field": "s", "type": "nominal", "scale": {"domain": ["under 4.5","under 7.5","under 10.5","under 13.5","under 16.5","under 19.5","under 22.5"], "range": ["#ea3b66","#59bf66","#5f7ade","#f69550","#a240bf","#5fdbf6","#f251ea"]},
   "legend": {"orient": "top-right", "offset": 6, "columns": 4, "title": null, "symbolType": "M-2.16,0H2.16", "symbolSize": 156, "symbolStrokeWidth": 2.2, "symbolOffset": 6.15, "labelFontSize": 12.5, "labelFont": "DejaVu Sans", "labelColor": "#111", "labelLimit": 0, "columnPadding": 20, "rowPadding": 4, "padding": 5, "labelOffset": 15, "fillColor": "rgba(255,255,255,0.85)", "strokeColor": "#cccccc", "cornerRadius": 3}}}}
]
},
{
"width": 1985, "height": 467.4,
"title": {"text": "TONY HIRSCH JR — Power Strikes Landed R4 Under (Event 16244)", "fontSize": 20.8, "fontWeight": "normal", "font": "DejaVu Sans", "color": "#000", "anchor": "middle", "frame": "group", "baseline": "alphabetic", "offset": -15.7},
"data": {"name": "h"},
"encoding": {"x": {"field": "t", "type": "quantitative", "scale": {"domain": [-9, 189], "nice": false, "zero": false}, "axis": {"values": [0,25,50,75,100,125,150,175], "tickCount": 50, "labels": false, "title": null, "grid": false}}},
"layer": [
{"mark": {"type": "area", "opacity": 0.1},
 "encoding": {
  "y": {"field": "p", "type": "quantitative", "title": "Prob", "scale": {"domain": [0, 1.1501], "nice": false, "zero": false}, "axis": {"values": [0,0.05,0.1,0.15,0.2,0.25,0.3,0.35,0.4,0.45,0.5,0.55,0.6,0.65,0.7,0.75,0.8,0.85,0.9,0.95,1,1.05,1.1,1.15], "tickCount": 40, "format": ".2f", "title": "Prob", "grid": true, "labelOverlap": false}},
  "y2": {"field": "l"},
  "fill": {"field": "s", "type": "nominal", "scale": {"domain": ["under 22.5","under 19.5","under 16.5","under 13.5","under 10.5","under 7.5","under 4.5"], "range": ["#f032e6","#42d4f4","#911eb4","#f58231","#4363d8","#3cb44b","#e6194b"]}, "legend": null}}},
{"mark": {"type": "line", "strokeWidth": 1.3, "strokeDash": [1.3, 2.2], "opacity": 0.6},
 "encoding": {
  "y": {"field": "l", "type": "quantitative", "title": "Prob"},
  "stroke": {"field": "s", "type": "nominal", "scale": {"domain": ["under 4.5","under 10.5","under 16.5","under 22.5","under 7.5","under 13.5","under 19.5"], "range": ["#e6194b","#4363d8","#911eb4","#f032e6","#3cb44b","#f58231","#42d4f4"]}, "legend": null}}},
{"mark": {"type": "line", "strokeWidth": 2},
 "encoding": {
  "y": {"field": "p", "type": "quantitative", "title": "Prob"},
  "color": {"field": "s", "type": "nominal", "scale": {"domain": ["under 4.5","under 7.5","under 10.5","under 13.5","under 16.5","under 19.5","under 22.5"], "range": ["#ea3b66","#59bf66","#5f7ade","#f69550","#a240bf","#5fdbf6","#f251ea"]},
   "legend": {"orient": "top-right", "offset": 6, "columns": 4, "title": null, "symbolType": "M-2.16,0H2.16", "symbolSize": 156, "symbolStrokeWidth": 2.2, "symbolOffset": 6.15, "labelFontSize": 12.5, "labelFont": "DejaVu Sans", "labelColor": "#111", "labelLimit": 0, "columnPadding": 20, "rowPadding": 4, "padding": 5, "labelOffset": 15, "fillColor": "rgba(255,255,255,0.85)", "strokeColor": "#cccccc", "cornerRadius": 3}}}}
]
},
{
"width": 1985, "height": 311.3,
"layer": [
{"data": {"name": "b"},
 "mark": {"type": "area", "opacity": 0.18},
 "encoding": {
  "x": {"field": "t", "type": "quantitative", "scale": {"domain": [-9, 189], "nice": false, "zero": false}, "axis": {"values": [0,25,50,75,100,125,150,175], "tickCount": 50, "title": "Round time (seconds)", "titleFontSize": 19.4, "labelPadding": 7, "titlePadding": 10, "grid": false}},
  "y": {"field": "hi", "type": "quantitative", "title": "Count", "scale": {"domain": [-1.2, 26.2], "nice": false, "zero": false}, "axis": {"values": [0,5,10,15,20,25], "tickCount": 20, "title": "Count", "titleFontSize": 15.3, "titlePadding": 14, "grid": true}},
  "y2": {"field": "lo"},
  "fill": {"field": "w", "type": "nominal", "scale": {"domain": ["R","T"], "range": ["#ff4444","#4444ff"]}, "legend": null}}},
{"data": {"name": "c"},
 "mark": {"type": "line", "strokeWidth": 2.8},
 "encoding": {
  "x": {"field": "t", "type": "quantitative"},
  "y": {"field": "v", "type": "quantitative", "title": "Count"},
  "color": {"field": "k", "type": "nominal", "scale": {"domain": ["Truth ROBERT MERIWETHER III: 14","Truth TONY HIRSCH JR: 6","Predicted ROBERT MERIWETHER III: 13.0","Predicted TONY HIRSCH JR: 12.5"], "range": ["#ff4343","#4343ff","#ff7272","#7272ff"]},
   "legend": {"orient": "top-left", "offset": 7, "title": null, "symbolType": "M-2.21,0H2.21", "symbolSize": 196, "symbolStrokeWidth": 3, "symbolOffset": 7, "labelFontSize": 13.9, "labelFont": "DejaVu Sans", "labelColor": "#111", "labelLimit": 0, "rowPadding": 6.4, "padding": 6, "labelOffset": 19, "fillColor": "rgba(255,255,255,0.85)", "strokeColor": "#cccccc", "cornerRadius": 3}},
  "strokeDash": {"field": "k", "type": "nominal", "scale": {"domain": ["Truth ROBERT MERIWETHER III: 14","Truth TONY HIRSCH JR: 6","Predicted ROBERT MERIWETHER III: 13.0","Predicted TONY HIRSCH JR: 12.5"], "range": [[1,0],[1,0],[3,4.5],[3,4.5]]},
   "legend": {"orient": "top-left", "offset": 7, "title": null, "symbolType": "M-2.21,0H2.21", "symbolSize": 196, "symbolStrokeWidth": 3, "symbolOffset": 7, "labelFontSize": 13.9, "labelFont": "DejaVu Sans", "labelColor": "#111", "labelLimit": 0, "rowPadding": 6.4, "padding": 6, "labelOffset": 19, "fillColor": "rgba(255,255,255,0.85)", "strokeColor": "#cccccc", "cornerRadius": 3}}}}
]
}
],
"resolve": {"scale": {"x": "independent", "y": "independent", "color": "independent", "fill": "independent", "stroke": "independent", "strokeDash": "independent"}, "legend": {"color": "independent", "strokeDash": "independent"}},
"config": {
 "font": "DejaVu Sans",
 "view": {"stroke": "#222222", "strokeWidth": 1.3},
 "axis": {"labelFont": "DejaVu Sans", "titleFont": "DejaVu Sans", "labelFontSize": 13.9, "titleFontSize": 13.9, "titleFontWeight": "normal", "labelColor": "#111", "titleColor": "#111", "tickColor": "#222", "tickWidth": 1.1, "tickSize": 6, "domain": false, "gridColor": "#e3e3e3", "gridWidth": 1, "labelPadding": 10},
 "axisX": {"grid": false, "labelPadding": 7},
 "axisY": {"grid": true, "titlePadding": 7}
}
}
